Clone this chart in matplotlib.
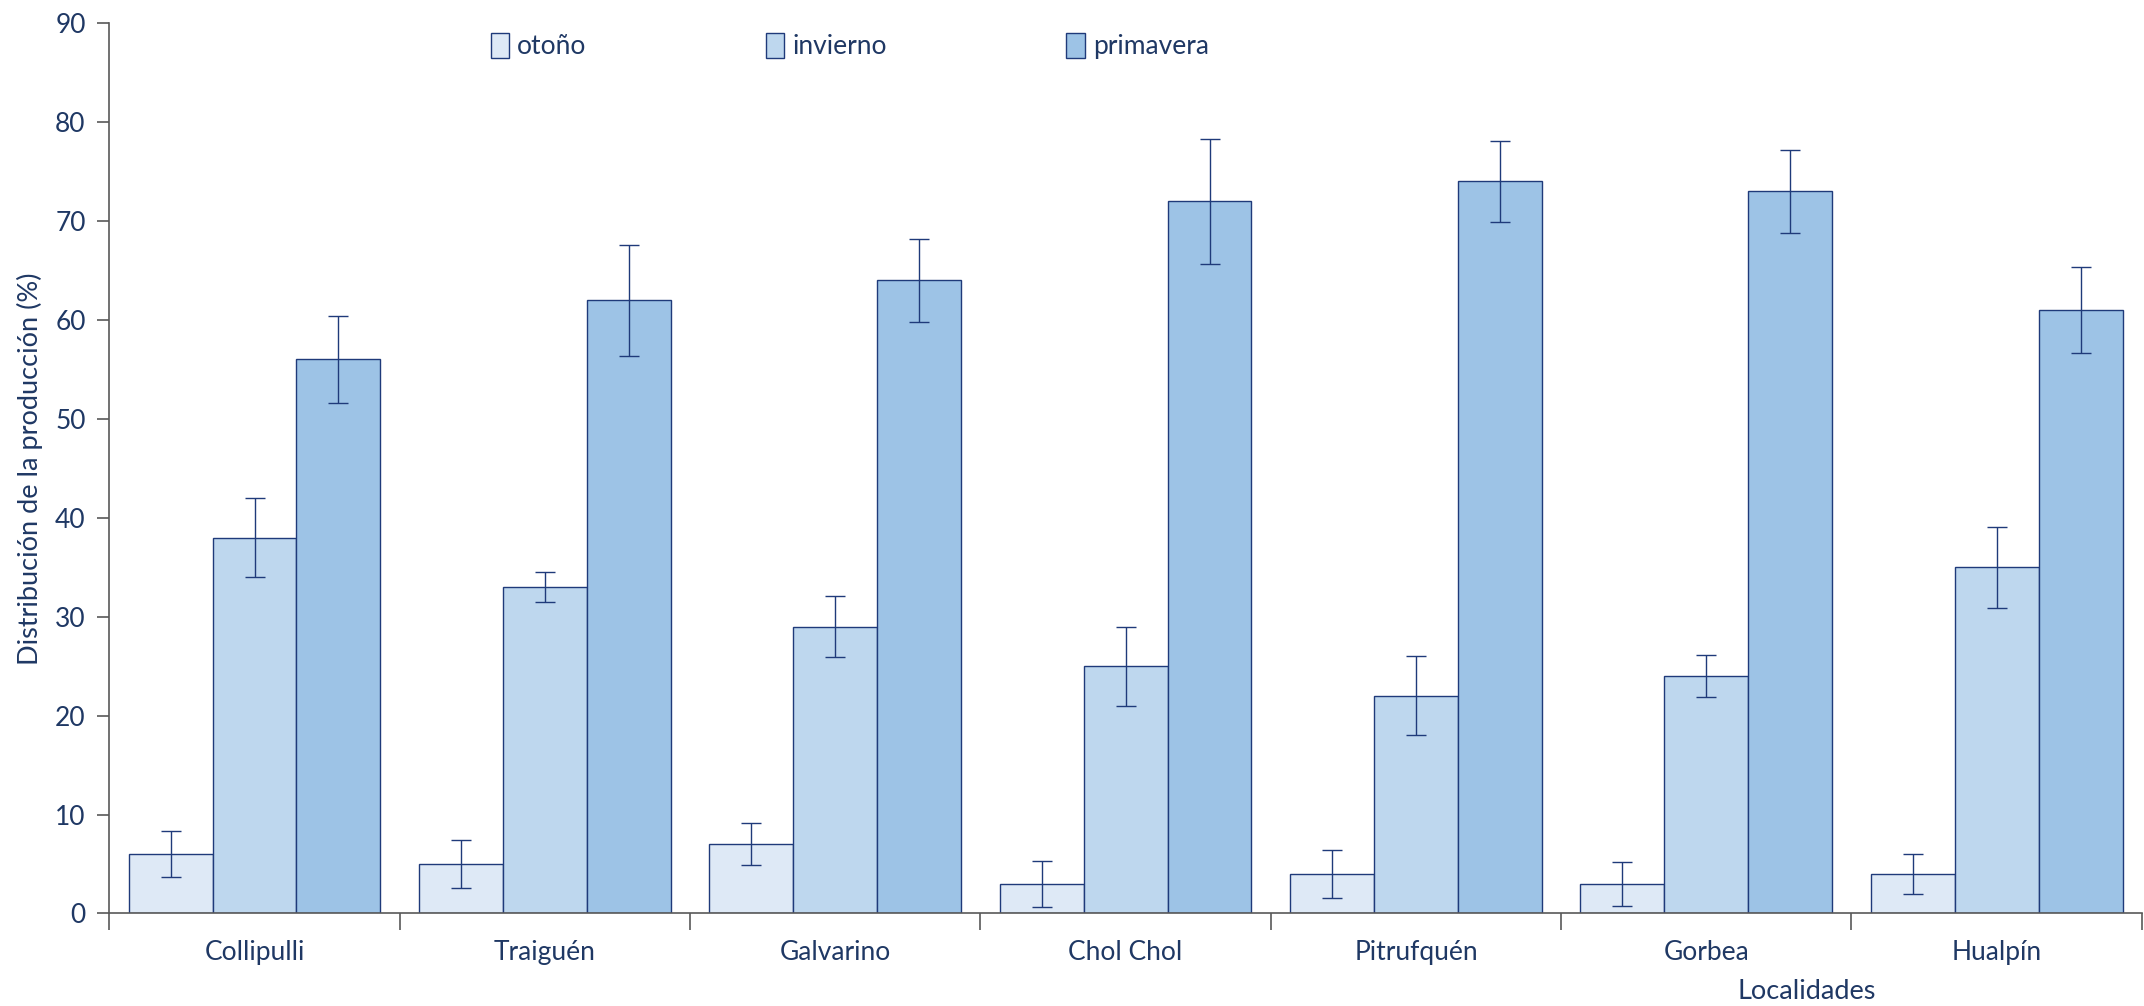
import matplotlib
matplotlib.use("Agg")
import matplotlib.pyplot as plt
import numpy as np

plt.rcParams['font.family'] = ['Lato', 'DejaVu Sans']

localidades = ["Collipulli", "Traiguén", "Galvarino", "Chol Chol",
               "Pitrufquén", "Gorbea", "Hualpín"]
estaciones = ["otoño", "invierno", "primavera"]

otono = [6, 5, 7, 3, 4, 3, 4]
invierno = [38, 33, 29, 25, 22, 24, 35]
primavera = [56, 62, 64, 72, 74, 73, 61]

err_otono = [2.3, 2.4, 2.1, 2.3, 2.4, 2.2, 2.0]
err_invierno = [4.0, 1.5, 3.1, 4.0, 4.0, 2.1, 4.1]
err_primavera = [4.4, 5.6, 4.2, 6.3, 4.1, 4.2, 4.3]

colores = ["#DEE9F6", "#BED7EE", "#9DC3E6"]
navy = "#1F3A7A"
texto = "#1F3864"

fig = plt.figure(figsize=(21.44, 10.06), dpi=100)
ax = fig.add_axes([0.051, 0.092, 0.948, 0.885])

x = np.arange(len(localidades))
width = 0.289
series = [otono, invierno, primavera]
errores = [err_otono, err_invierno, err_primavera]

for i, (vals, errs) in enumerate(zip(series, errores)):
    pos = x + (i - 1) * width
    ax.bar(pos, vals, width, color=colores[i], edgecolor=navy,
           linewidth=1.0, label=estaciones[i], zorder=2)
    ax.errorbar(pos, vals, yerr=errs, fmt="none", ecolor=navy,
                elinewidth=1.0, capsize=7, capthick=1.0, zorder=3)

ax.set_ylim(0, 90)
ax.set_xlim(-0.5, len(localidades) - 0.5)
ax.set_yticks(np.arange(0, 91, 10))

# boundaries get the tick marks, centres get the labels
ax.set_xticks(np.arange(-0.5, len(localidades)), labels=[])
ax.set_xticks(x, labels=localidades, minor=True)
ax.tick_params(axis="x", which="major", length=12, color="#595959", width=1.2)
ax.tick_params(axis="x", which="minor", length=0, pad=19,
               labelsize=19, labelcolor=texto)
ax.tick_params(axis="y", length=9, color="#595959", width=1.2,
               labelsize=19, labelcolor=texto, pad=8)

for s in ["top", "right"]:
    ax.spines[s].set_visible(False)
for s in ["left", "bottom"]:
    ax.spines[s].set_color("#595959")
    ax.spines[s].set_linewidth(1.2)

ax.set_ylabel("Distribución de la producción (%)", fontsize=19.5, color=texto,
              labelpad=9)
fig.text(0.8425, 0.0145, "Localidades", fontsize=19.5, color=texto,
         ha="center", va="center")

leg = ax.legend(loc="upper left", bbox_to_anchor=(0.176, 1.016), ncol=3,
                frameon=False, fontsize=19, handlelength=0.7,
                handleheight=1.1, handletextpad=0.3, columnspacing=6.8)
for t in leg.get_texts():
    t.set_color(texto)

fig.savefig("out.png", dpi=100)
